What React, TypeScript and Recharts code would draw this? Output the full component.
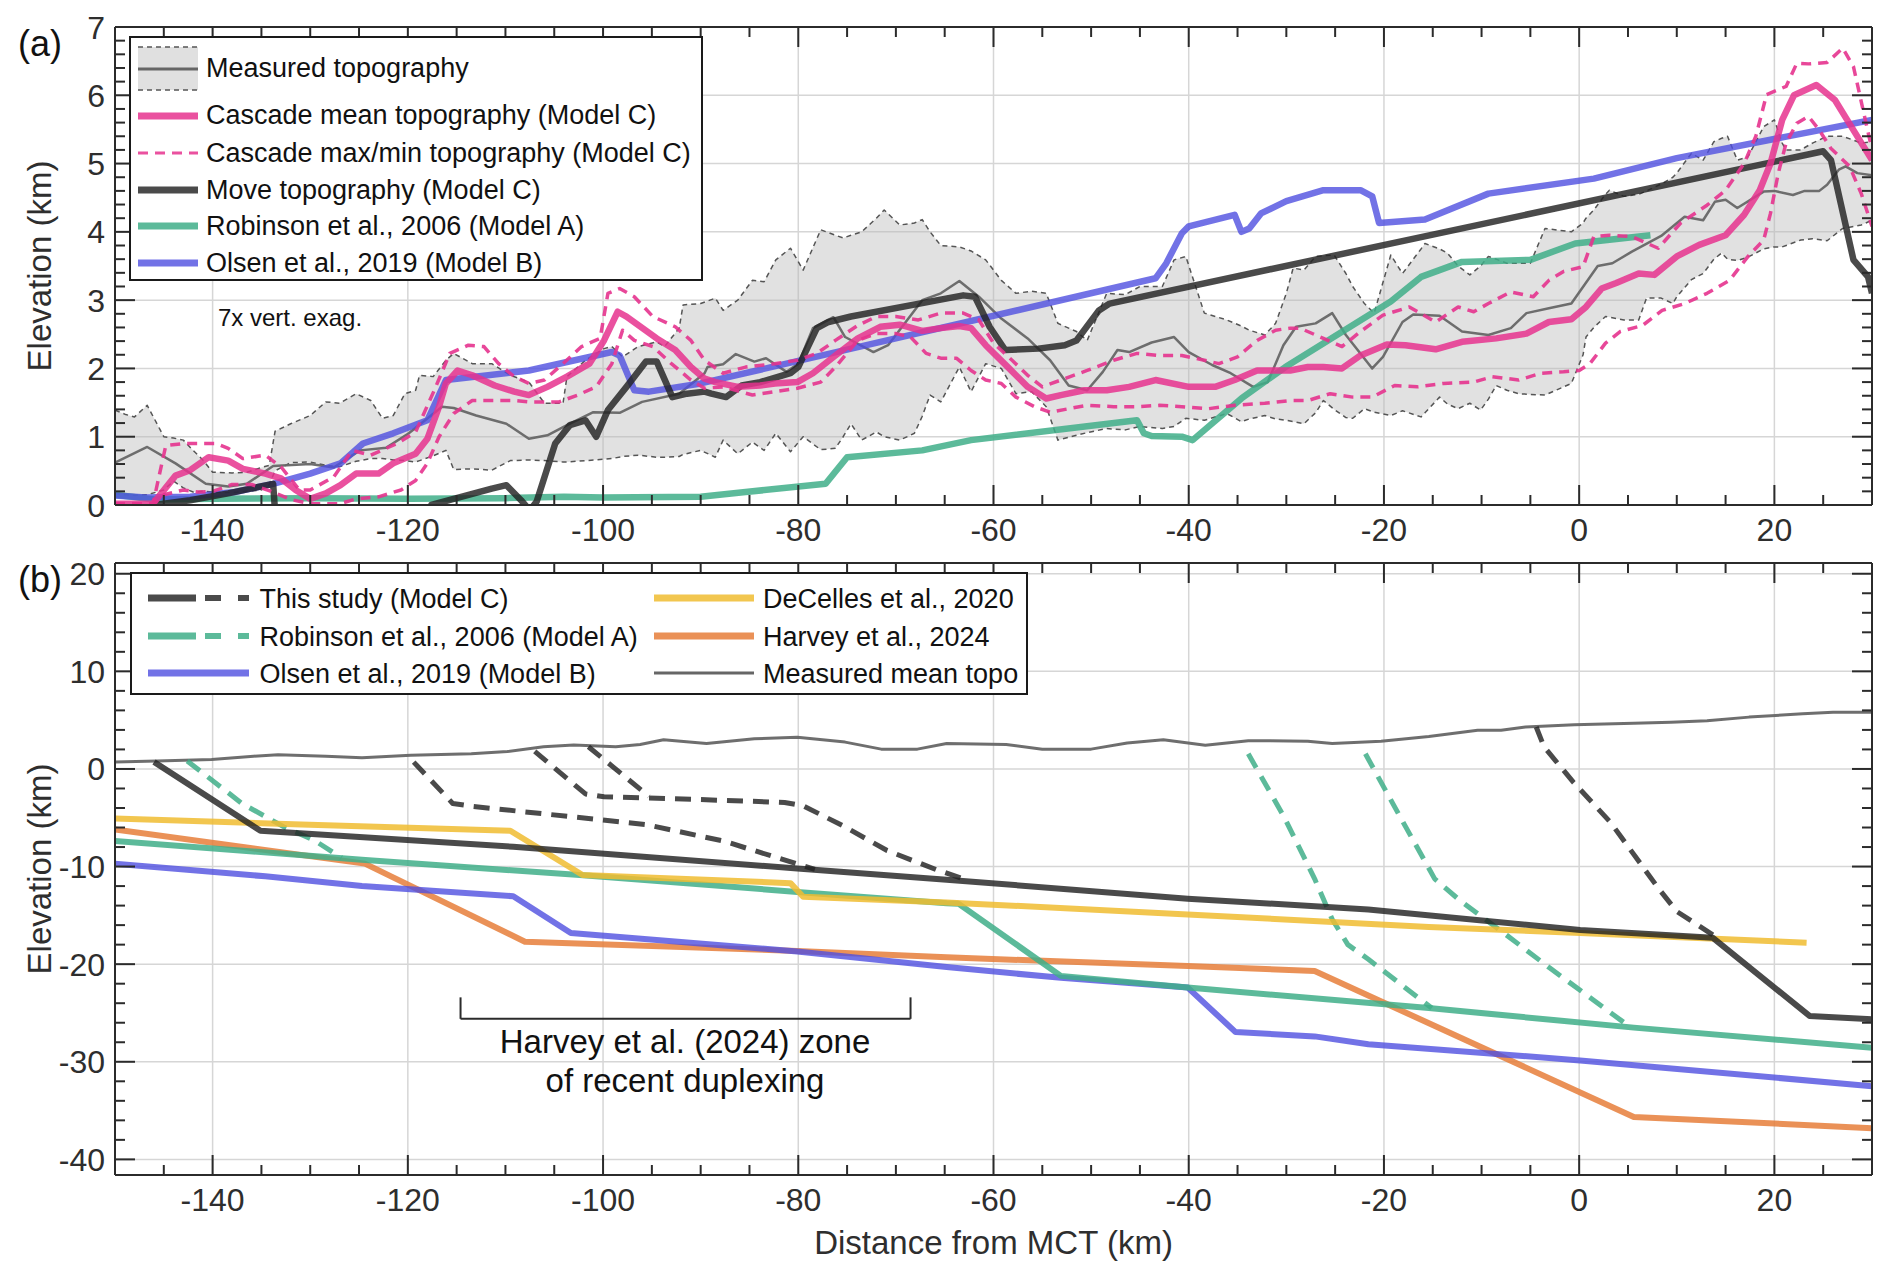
import React from 'react';
import { ComposedChart, Line, Area, XAxis, YAxis, CartesianGrid, ReferenceLine } from 'recharts';

type P = [number, number];
type T = [number, number, number];

const FONT = '"Liberation Sans", Arial, Helvetica, sans-serif';
const AXIS = '#2b2b2b';
const GRID = '#d6d6d6';
const PINK = '#E6338E';
const DARK = '#222222';
const TEAL = '#3FAE88';
const BLUE = '#4F4FE0';
const YELLOW = '#F0BC30';
const ORANGE = '#E67E3A';
const TOPO = '#666666';

// ---------- ticks ----------
const xMajorTicks = [-140, -120, -100, -80, -60, -40, -20, 0, 20];
const xAllTicks = [-145, -140, -135, -130, -125, -120, -115, -110, -105, -100, -95, -90, -85, -80, -75, -70, -65, -60, -55, -50, -45, -40, -35, -30, -25, -20, -15, -10, -5, 0, 5, 10, 15, 20, 25];
const yMajorTicksA = [0, 1, 2, 3, 4, 5, 6, 7];
const yAllTicksA = [0.2, 0.4, 0.6, 0.8, 1, 1.2, 1.4, 1.6, 1.8, 2, 2.2, 2.4, 2.6, 2.8, 3, 3.2, 3.4, 3.6, 3.8, 4, 4.2, 4.4, 4.6, 4.8, 5, 5.2, 5.4, 5.6, 5.8, 6, 6.2, 6.4, 6.6, 6.8];
const yMajorTicksB = [-40, -30, -20, -10, 0, 10, 20];
const yAllTicksB = [-40, -38, -36, -34, -32, -30, -28, -26, -24, -22, -20, -18, -16, -14, -12, -10, -8, -6, -4, -2, 0, 2, 4, 6, 8, 10, 12, 14, 16, 18, 20];

// ---------- panel (a) data ----------
// measured topography envelope: [x, max, min]
const measuredBand: T[] = [
  [-150, 1.39, 0.17], [-149, 1.33, 0.15], [-148, 1.29, 0.14], [-146.7, 1.46, 0.15], [-145, 1.0, 0.22],
  [-144, 0.98, 0.35], [-143, 0.95, 0.25], [-142, 0.8, 0.19], [-141, 0.66, 0.2], [-140, 0.48, 0.19],
  [-138, 0.47, 0.18], [-136.5, 0.48, 0.2], [-135, 0.55, 0.22], [-134.2, 0.58, 0.3], [-133.6, 1.08, 0.5],
  [-132, 1.19, 0.62], [-130, 1.31, 0.63], [-128.4, 1.51, 0.58], [-127, 1.49, 0.56], [-125.3, 1.63, 0.64],
  [-123.8, 1.53, 0.68], [-122.6, 1.27, 0.68], [-121.5, 1.31, 0.66], [-120.3, 1.63, 0.65], [-119.2, 1.68, 0.63],
  [-118.8, 1.9, 0.65], [-117.4, 1.88, 0.72], [-116.1, 2.12, 0.8], [-115.3, 2.22, 0.52], [-113.4, 2.07, 0.53],
  [-111.4, 2.07, 0.51], [-109.5, 1.9, 0.65], [-107.6, 1.8, 0.66], [-106, 1.49, 0.65], [-104.1, 1.49, 0.63],
  [-103.7, 1.88, 0.63], [-101.8, 2.12, 0.65], [-99.9, 2.29, 0.67], [-99.1, 2.32, 0.68], [-98, 2.17, 0.71],
  [-96.4, 2.32, 0.73], [-94.5, 2.39, 0.7], [-93.7, 2.32, 0.7], [-92.2, 2.59, 0.71], [-91.8, 2.93, 0.74],
  [-90, 2.95, 0.8], [-88.5, 3.03, 0.7], [-87.7, 2.85, 0.95], [-86.2, 3.0, 0.75], [-84.7, 3.29, 0.92],
  [-83.5, 3.27, 0.8], [-82.3, 3.59, 1.05], [-80.8, 3.76, 0.78], [-79.5, 3.44, 1.0], [-77.7, 4.03, 0.81],
  [-76.2, 3.95, 0.83], [-75.4, 3.91, 1.0], [-74.6, 3.95, 1.19], [-73.5, 4.0, 0.95], [-72, 4.2, 1.07],
  [-71.2, 4.32, 1.0], [-69.6, 4.1, 0.95], [-68.1, 4.13, 1.05], [-67.3, 4.18, 1.3], [-66.5, 4.0, 1.61],
  [-65.4, 3.8, 1.51], [-63.5, 3.78, 2.02], [-62.3, 3.72, 1.66], [-60.8, 3.59, 2.07], [-59.2, 3.29, 2.0],
  [-57.7, 3.1, 1.63], [-56.1, 3.13, 1.66], [-54.6, 3.1, 1.44], [-53.4, 2.66, 0.95], [-51.5, 2.54, 1.02],
  [-50.4, 2.41, 1.06], [-48.4, 3.1, 1.12], [-46.5, 3.08, 1.1], [-45, 3.2, 1.15], [-42.7, 3.2, 1.12],
  [-41.5, 3.59, 1.15], [-40.3, 3.64, 1.27], [-38.4, 2.81, 1.24], [-36.1, 2.71, 1.34], [-34.6, 2.62, 1.22],
  [-33.8, 2.56, 1.26], [-32.2, 2.49, 1.31], [-31.1, 2.66, 1.26], [-30, 3.1, 1.24], [-29.3, 3.47, 1.22],
  [-28.2, 3.44, 1.19], [-27, 3.64, 1.35], [-26.2, 3.65, 1.53], [-25.1, 3.66, 1.4], [-23.9, 3.39, 1.28],
  [-23.2, 3.2, 1.27], [-22, 2.95, 1.41], [-21, 2.81, 1.36], [-19.3, 3.66, 1.31], [-18.1, 3.39, 1.38],
  [-16.2, 3.75, 1.29], [-15.8, 3.83, 1.35], [-14.3, 3.75, 1.58], [-13.5, 3.69, 1.48], [-12.4, 3.5, 1.41],
  [-11.2, 3.37, 1.49], [-10.1, 3.5, 1.39], [-9.3, 3.64, 1.55], [-8.5, 3.6, 1.75], [-7.4, 3.54, 1.68],
  [-6.2, 3.54, 1.63], [-5, 3.54, 1.62], [-3.5, 4.05, 1.61], [-0.8, 4.0, 1.78], [0.4, 4.13, 2.2],
  [0.7, 4.2, 2.46], [1.5, 4.32, 2.6], [2.7, 4.55, 2.76], [3.1, 4.61, 2.75], [4.6, 4.52, 2.71],
  [6.1, 4.55, 2.71], [6.9, 4.6, 3.03], [8.4, 4.7, 3.03], [9.6, 4.8, 2.95], [10, 4.86, 3.05],
  [11.5, 5.15, 3.3], [12.7, 5.05, 3.39], [13.8, 5.32, 3.6], [14.6, 5.37, 3.69], [15.2, 5.4, 3.6],
  [16.2, 5.05, 3.58], [17.3, 5.1, 3.63], [18.9, 5.54, 3.75], [20, 5.64, 3.78], [20.8, 5.3, 3.78],
  [21.2, 5.2, 3.8], [22.7, 5.2, 3.88], [23.9, 5.3, 3.9], [25.4, 5.4, 3.87], [27, 5.4, 4.05],
  [28.9, 5.3, 4.1], [30, 5.32, 4.17],
];

const measuredMeanA: P[] = [
  [-150, 0.62], [-146.7, 0.85], [-143.8, 0.61], [-140.7, 0.31], [-138.4, 0.27], [-136.5, 0.31], [-133.8, 0.57],
  [-130, 0.6], [-127.6, 0.55], [-124.9, 0.8], [-122.2, 0.84], [-119.9, 1.05], [-116.5, 1.44], [-115.3, 1.42],
  [-113, 1.31], [-109.9, 1.19], [-107.6, 0.97], [-105.7, 1.02], [-103.7, 1.17], [-101, 1.36], [-98.3, 1.35],
  [-96, 1.51], [-92.2, 1.63], [-89.6, 1.93], [-89.3, 2.02], [-87.7, 2.06], [-86.4, 2.21], [-84.5, 2.1],
  [-83.3, 2.15], [-81.2, 1.95], [-80, 2.07], [-78.5, 2.59], [-76.4, 2.75], [-75.2, 2.46], [-72.3, 2.24],
  [-70.8, 2.34], [-67.3, 3.0], [-65.4, 3.1], [-63.5, 3.28], [-61.5, 3.05], [-59.2, 2.73], [-56.5, 2.44],
  [-54.2, 2.12], [-52.3, 1.75], [-50.4, 1.68], [-48.8, 1.95], [-47.3, 2.27], [-46.1, 2.24], [-43.8, 2.38],
  [-41.5, 2.46], [-40, 2.24], [-37.6, 2.05], [-35.7, 1.93], [-33.4, 1.73], [-31.9, 1.8], [-30.3, 2.34],
  [-29, 2.61], [-27, 2.66], [-25.3, 2.81], [-23.9, 2.49], [-21.2, 2.0], [-20.1, 2.17], [-18.1, 2.68],
  [-17, 2.79], [-14.3, 2.77], [-12, 2.54], [-9.3, 2.49], [-7, 2.59], [-5.4, 2.81], [-3.1, 2.88],
  [-0.8, 2.95], [1.9, 3.5], [3.4, 3.54], [5.4, 3.71], [8.4, 3.94], [10.8, 4.22], [12.7, 4.17],
  [13.9, 4.44], [15, 4.47], [16.2, 4.35], [18.9, 4.59], [20, 4.6], [21.9, 4.54], [23.1, 4.6],
  [24.6, 4.6], [25.4, 4.69], [26.6, 4.91], [27.3, 4.96], [28.5, 4.86], [30, 4.83],
];

const cascadeMean: P[] = [
  [-150, 0.02], [-146.1, 0.02], [-143.8, 0.43], [-142.3, 0.51], [-140.4, 0.7], [-138.4, 0.65], [-136.9, 0.53],
  [-134.6, 0.46], [-133, 0.39], [-131.5, 0.22], [-130, 0.09], [-128.4, 0.17], [-126.9, 0.29], [-125.3, 0.46],
  [-123, 0.46], [-121.5, 0.61], [-119.2, 0.75], [-118, 0.97], [-116.8, 1.44], [-116.1, 1.78], [-114.9, 1.97],
  [-113.4, 1.9], [-111.1, 1.75], [-109.1, 1.66], [-107.6, 1.61], [-105.7, 1.73], [-103.7, 1.88], [-101.4, 2.07],
  [-99.9, 2.41], [-98.5, 2.83], [-97.6, 2.76], [-94.5, 2.44], [-92.6, 2.27], [-91, 2.02], [-89.6, 1.85],
  [-88.5, 1.8], [-86.2, 1.73], [-83.9, 1.75], [-82.4, 1.78], [-80.1, 1.8], [-78.5, 1.93], [-76.2, 2.19],
  [-73.9, 2.44], [-71.6, 2.61], [-69.6, 2.64], [-67.3, 2.55], [-65.4, 2.59], [-63.5, 2.62], [-62.3, 2.59],
  [-60.8, 2.34], [-58.4, 2.0], [-56.5, 1.73], [-54.6, 1.56], [-53.1, 1.61], [-50.7, 1.68], [-48.4, 1.68],
  [-46.1, 1.73], [-43.4, 1.83], [-40, 1.73], [-37.3, 1.73], [-35.3, 1.83], [-33, 1.97], [-29.6, 1.97],
  [-27.8, 2.02], [-26.2, 2.02], [-24.3, 2.0], [-22.4, 2.19], [-19.7, 2.35], [-17.8, 2.34], [-14.7, 2.28],
  [-12, 2.39], [-8.5, 2.44], [-5.4, 2.51], [-3.1, 2.68], [-0.8, 2.72], [0.7, 2.9], [2.3, 3.17],
  [3.8, 3.25], [6.1, 3.39], [7.7, 3.37], [10, 3.64], [12.3, 3.81], [15, 3.95], [16.9, 4.25],
  [18.5, 4.61], [19.6, 5.0], [20.8, 5.64], [22, 6.0], [24.3, 6.15], [26.2, 5.93], [28.1, 5.49], [30, 5.05],
];

const cascadeMax: P[] = [
  [-150, 0.02], [-146.1, 0.02], [-144.8, 0.87], [-143, 0.9], [-139.6, 0.9], [-138.4, 0.83], [-136.9, 0.68],
  [-134.6, 0.73], [-133, 0.56], [-131.1, 0.22], [-130, 0.22], [-127.6, 0.41], [-125.7, 0.8], [-123.8, 0.73],
  [-121.1, 0.9], [-119.2, 1.07], [-117.2, 1.71], [-115.7, 2.22], [-113.8, 2.34], [-112.2, 2.32], [-110.7, 2.07],
  [-109.1, 1.88], [-107.6, 1.78], [-106, 1.83], [-104.1, 2.07], [-102.2, 2.32], [-100.3, 2.44], [-99.5, 3.1],
  [-98.3, 3.17], [-96.8, 3.05], [-94.9, 2.76], [-92.6, 2.61], [-91, 2.41], [-89.6, 2.12], [-87.7, 1.93],
  [-85.4, 2.02], [-82.4, 2.07], [-80.1, 2.12], [-78.1, 2.22], [-76.2, 2.41], [-73.9, 2.63], [-72, 2.76],
  [-70, 2.76], [-67.7, 2.71], [-65.4, 2.81], [-63.1, 2.81], [-61.5, 2.71], [-60, 2.37], [-58.1, 2.12],
  [-56.5, 1.9], [-55, 1.73], [-53.1, 1.83], [-50.4, 1.97], [-47.7, 2.12], [-45.3, 2.22], [-43, 2.19],
  [-40.7, 2.19], [-38.4, 2.12], [-36.9, 2.07], [-35, 2.17], [-33, 2.41], [-31.1, 2.56], [-29.6, 2.59],
  [-28.6, 2.59], [-26.2, 2.44], [-24.3, 2.32], [-22.4, 2.54], [-20.1, 2.78], [-17.4, 2.9], [-14.7, 2.68],
  [-12.4, 2.9], [-10.8, 2.83], [-9.3, 2.95], [-7, 3.12], [-4.7, 3.05], [-3.1, 3.29], [-1.6, 3.42],
  [0.4, 3.49], [1.5, 3.93], [3.1, 3.95], [5.4, 3.93], [8.1, 3.76], [10.4, 4.13], [13.1, 4.39],
  [15, 4.61], [16.9, 5.0], [18.1, 5.4], [19.2, 6.01], [21.2, 6.13], [22.3, 6.47], [23.5, 6.46],
  [25.4, 6.48], [27, 6.69], [28.1, 6.42], [30, 5.2],
];

const cascadeMin: P[] = [
  [-150, 0.01], [-146.1, 0.01], [-145, 0.15], [-143, 0.22], [-141.5, 0.19], [-140, 0.2], [-138, 0.3],
  [-136, 0.3], [-134, 0.2], [-132, 0.08], [-130, 0.02], [-128, 0.02], [-126.9, 0.02], [-125.3, 0.09],
  [-123, 0.12], [-120.7, 0.22], [-119.2, 0.36], [-118, 0.61], [-116.8, 1.0], [-115.3, 1.34], [-113.4, 1.53],
  [-111.4, 1.53], [-109.1, 1.53], [-107.6, 1.51], [-104.5, 1.51], [-102.6, 1.61], [-100.7, 1.73], [-99.1, 2.07],
  [-98, 2.56], [-96.8, 2.41], [-94.9, 2.32], [-93, 2.07], [-91, 1.83], [-89.6, 1.71], [-87.7, 1.73],
  [-84.7, 1.61], [-82.4, 1.66], [-80.1, 1.71], [-77.7, 1.8], [-76.2, 2.02], [-73.9, 2.41], [-72, 2.51],
  [-70, 2.51], [-68.5, 2.46], [-66.9, 2.22], [-65.4, 2.15], [-63.8, 2.15], [-62.3, 1.97], [-60.8, 1.83],
  [-59.2, 1.78], [-57.7, 1.58], [-55.8, 1.44], [-54.2, 1.36], [-52.3, 1.41], [-50.4, 1.46], [-47.7, 1.44],
  [-45.3, 1.44], [-43, 1.46], [-40.7, 1.44], [-38, 1.41], [-35.3, 1.46], [-32.2, 1.49], [-29.6, 1.53],
  [-27.8, 1.53], [-25.5, 1.63], [-23.2, 1.58], [-21.2, 1.58], [-18.9, 1.75], [-16.6, 1.73], [-13.9, 1.78],
  [-10.8, 1.8], [-8.9, 1.88], [-6.2, 1.83], [-3.9, 1.93], [-1.6, 1.95], [0, 1.97], [1.1, 2.07],
  [2.7, 2.37], [4.2, 2.54], [6.5, 2.63], [8.5, 2.85], [10.8, 2.95], [13.1, 3.1], [15.4, 3.29],
  [17.3, 3.64], [18.9, 3.88], [19.6, 4.27], [20.4, 4.86], [21.2, 5.3], [22.3, 5.59], [23.5, 5.69],
  [24.6, 5.49], [25.8, 5.22], [27.7, 4.96], [28.9, 4.56], [30, 4.08],
];

// Move topography: drops below sea level (out of view) between the two early thrust sheets
const moveTopo: P[] = [
  [-146, 0], [-142.3, 0.07], [-138.4, 0.17], [-133.8, 0.31], [-133.4, -0.5], [-118.4, -0.5], [-117.6, 0],
  [-115.3, 0.09], [-111.4, 0.24], [-109.9, 0.29], [-108.4, 0.07], [-107.5, -0.08], [-106.8, 0.05], [-104.9, 0.9],
  [-103.4, 1.17], [-101.8, 1.24], [-100.7, 1.0], [-99.5, 1.39], [-97.6, 1.73], [-95.6, 2.1], [-94.5, 2.1],
  [-92.9, 1.58], [-91.4, 1.63], [-89.6, 1.66], [-88.9, 1.63], [-87.4, 1.58], [-85.8, 1.75], [-83.9, 1.8],
  [-80.8, 1.93], [-80, 2.02], [-78.1, 2.59], [-76.9, 2.68], [-74.6, 2.76], [-63.1, 3.07], [-61.9, 3.05],
  [-60.4, 2.61], [-58.8, 2.27], [-55.4, 2.29], [-52.7, 2.34], [-51.5, 2.41], [-49.2, 2.85], [-48.1, 2.95],
  [25, 5.18], [25.8, 5.05], [28.1, 3.59], [29.6, 3.34], [30, 3.1],
];

const robinsonA: P[] = [
  [-150, 0.15], [-146, 0.08], [-140, 0.09], [-130, 0.1], [-120, 0.09], [-110, 0.1], [-104, 0.12], [-100, 0.11],
  [-90, 0.12], [-85.4, 0.19], [-77.2, 0.31], [-75, 0.7], [-67.3, 0.8], [-62.3, 0.95], [-45.3, 1.24],
  [-44.6, 1.05], [-43.8, 1.01], [-40.7, 1.0], [-39.6, 0.95], [-34.6, 1.56], [-30.1, 2.02], [-19.3, 2.98],
  [-16.2, 3.34], [-12, 3.56], [-5, 3.59], [-0.4, 3.83], [7.3, 3.95],
];

const olsenA: P[] = [
  [-150, 0.14], [-146.9, 0.11], [-142.3, 0.12], [-137.7, 0.19], [-133.8, 0.31], [-130, 0.46], [-126.9, 0.61],
  [-124.6, 0.9], [-121.5, 1.05], [-118, 1.24], [-116.1, 1.83], [-107.6, 1.97], [-99.1, 2.24], [-98.3, 2.19],
  [-96.8, 1.68], [-95.3, 1.66], [-90, 1.78], [-43.4, 3.32], [-42.3, 3.54], [-40.7, 3.98], [-40, 4.08],
  [-35.3, 4.25], [-34.6, 4.0], [-33.8, 4.05], [-32.6, 4.27], [-30, 4.45], [-26.2, 4.61], [-22.4, 4.61],
  [-21.2, 4.52], [-20.5, 4.13], [-15.8, 4.18], [-9.3, 4.56], [1.5, 4.78], [10, 5.08], [30, 5.64],
];

// ---------- panel (b) data ----------
const measuredMeanB: P[] = [
  [-150, 0.72], [-145.7, 0.82], [-140.1, 0.97], [-135.8, 1.3], [-133.3, 1.45], [-128.4, 1.3], [-124.7, 1.16],
  [-119.7, 1.4], [-113.5, 1.55], [-109.8, 1.79], [-106.1, 2.27], [-103, 2.46], [-98.7, 2.27], [-96.2, 2.51],
  [-93.8, 3.0], [-89.4, 2.6], [-84.5, 3.09], [-80.1, 3.24], [-75.2, 2.75], [-71.5, 2.03], [-67.8, 2.03],
  [-64.8, 2.6], [-58.7, 2.5], [-55, 2.03], [-50, 2.03], [-46.3, 2.66], [-42.6, 3.0], [-38.3, 2.42],
  [-33.9, 2.9], [-27.8, 2.85], [-25.3, 2.61], [-20.3, 2.85], [-15.4, 3.33], [-10.4, 3.96], [-8, 3.96],
  [-5.5, 4.3], [-0.5, 4.54], [5.6, 4.69], [9.4, 4.78], [13.1, 4.93], [17.4, 5.31], [22.9, 5.65],
  [26, 5.8], [30, 5.8],
];

const thisStudyDecollement: P[] = [
  [-146, 0.72], [-135.1, -6.33], [-109.2, -7.97], [-80.1, -10.2], [-64.8, -11.35], [-40.1, -13.29],
  [-21.6, -14.4], [0.1, -16.5], [13.7, -17.3], [23.6, -25.3], [30, -25.65],
];
const thisStudyRamp1: P[] = [[-119.4, 0.7], [-115.4, -3.53], [-113.5, -3.82], [-95.6, -5.7], [-87.6, -7.4], [-78.3, -10.3]];
const thisStudyRamp2: P[] = [
  [-107, 1.8], [-101.8, -2.56], [-99.9, -2.85], [-90, -3.14], [-81.4, -3.43], [-79.5, -3.77],
  [-75.2, -5.94], [-70.9, -8.36], [-65.9, -10.3], [-63, -11.3],
];
const thisStudyRamp3: P[] = [[-101.5, 2.27], [-95.3, -2.8]];
const thisStudyRamp4: P[] = [[-4.4, 4.3], [-3.6, 2.27], [-0.6, -1.35], [3.2, -5.46], [8.1, -12.2], [10, -14.6], [13.7, -17.0]];

const robinsonDecollement: P[] = [
  [-150, -7.39], [-124.7, -9.3], [-102.4, -10.87], [-80.1, -12.6], [-64.8, -13.77], [-63.6, -13.8],
  [-53.1, -21.2], [-40.1, -22.4], [-15.4, -24.5], [5.6, -26.5], [30, -28.56],
];
const robinsonRamp1: P[] = [[-142.6, 0.82], [-137, -3.53], [-132.7, -5.94], [-129.6, -7.3], [-126.8, -9.1]];
const robinsonRamp2: P[] = [[-33.9, 1.55], [-30.2, -4.97], [-27.1, -11.26], [-25.3, -15.4], [-23.7, -18.0], [-21.6, -19.5], [-15.1, -24.5]];
const robinsonRamp3: P[] = [[-21.9, 1.55], [-17.9, -5.7], [-14.8, -11.26], [-12.3, -13.4], [-7.4, -17.05], [-3, -20.4], [5.3, -26.5]];

const olsenB: P[] = [
  [-150, -9.7], [-134.6, -11.0], [-124.7, -12.0], [-109.2, -13.04], [-103.3, -16.8], [-80.1, -18.7],
  [-64.8, -20.3], [-53.1, -21.4], [-40.1, -22.4], [-35.2, -26.96], [-27.1, -27.4], [-21.6, -28.2],
  [0.1, -29.86], [30, -32.5],
];
const decelles: P[] = [
  [-150, -5.07], [-130.9, -5.7], [-109.5, -6.33], [-102.1, -10.87], [-80.8, -11.7], [-79.5, -13.1],
  [-64.8, -13.67], [-40.1, -14.9], [-15.4, -16.2], [0.1, -16.8], [23.3, -17.8],
];
const harvey: P[] = [
  [-150, -6.2], [-124.4, -9.7], [-108, -17.7], [-80.1, -18.65], [-64.8, -19.3], [-40.1, -20.2],
  [-27.1, -20.7], [5.6, -35.65], [30, -36.8],
];

// Harvey et al. (2024) duplexing zone bracket
const bracketX = [-114.6, -68.5];
const bracketY = [-25.6, -23.4];

// ---------- helpers ----------
const toXY = (a: P[]) => a.map(([x, y]) => ({ x, y }));
const bandData = measuredBand.map(([x, hi, lo]) => ({ x, hi, lo, range: [lo, hi] }));

// ---------- layout ----------
const W = 1892;
const LEFT = 115;
const RIGHT_M = 19;
const PLOT_W = W - LEFT - RIGHT_M - 1;
const A_H = 560;
const A_TOPM = 26;
const A_XH = 55;
const A_PLOT_H = A_H - A_TOPM - 1 - A_XH;
const B_TOP = 540;
const B_H = 739;
const B_TOPM = 22;
const B_XH = 104;
const B_PLOT_H = B_H - B_TOPM - 1 - B_XH;

const tickText = { fontFamily: FONT, fontSize: 32, fill: '#2e2e2e' };

const BottomLabel = (props: any) => {
  const { x, y, payload } = props;
  return (
    <text x={x} y={y + 36} textAnchor="middle" {...tickText}>
      {String(payload.value)}
    </text>
  );
};
const LeftLabel = (props: any) => {
  const { x, y, payload } = props;
  return (
    <text x={x - 10} y={y + 11.5} textAnchor="end" {...tickText}>
      {String(payload.value)}
    </text>
  );
};
const makeXFrameTicks = (plotH: number) => (props: any) => {
  const { x, y, payload } = props;
  const len = payload.value % 20 === 0 ? 20 : 10;
  return (
    <g>
      <line x1={x} x2={x} y1={y} y2={y + len} stroke={AXIS} strokeWidth={2} />
      <line x1={x} x2={x} y1={y + plotH} y2={y + plotH - len} stroke={AXIS} strokeWidth={2} />
    </g>
  );
};
const makeYFrameTicks = (plotW: number, majorStep: number) => (props: any) => {
  const { x, y, payload } = props;
  const v = payload.value;
  const len = Math.abs(v / majorStep - Math.round(v / majorStep)) < 1e-6 ? 20 : 10;
  return (
    <g>
      <line x1={x} x2={x - len} y1={y} y2={y} stroke={AXIS} strokeWidth={2} />
      <line x1={x - plotW} x2={x - plotW + len} y1={y} y2={y} stroke={AXIS} strokeWidth={2} />
    </g>
  );
};

const axisLine = { stroke: AXIS, strokeWidth: 2 };

const XDOM: [number, number] = [-150, 30];

function Frame(yDomain: [number, number], yMajor: number[], yAll: number[], plotH: number, majorStep: number, xh: number) {
  return [
    <XAxis key="xb" xAxisId={0} dataKey="x" type="number" domain={XDOM} allowDataOverflow ticks={xMajorTicks} interval={0}
      tickSize={0} tickMargin={0} tickLine={false} axisLine={axisLine} tick={BottomLabel} height={xh} />,
    <XAxis key="xt" xAxisId="top" orientation="top" dataKey="x" type="number" domain={XDOM} allowDataOverflow ticks={xAllTicks} interval={0}
      tickSize={0} tickMargin={0} tickLine={false} axisLine={axisLine} tick={makeXFrameTicks(plotH)} height={1} />,
    <YAxis key="yl" yAxisId={0} type="number" domain={yDomain} allowDataOverflow ticks={yMajor} interval={0}
      tickSize={0} tickMargin={0} tickLine={false} axisLine={axisLine} tick={LeftLabel} width={LEFT} />,
    <YAxis key="yr" yAxisId="right" orientation="right" type="number" domain={yDomain} allowDataOverflow ticks={yAll} interval={0}
      tickSize={0} tickMargin={0} tickLine={false} axisLine={axisLine} tick={makeYFrameTicks(PLOT_W, majorStep)} width={1} />,
  ];
}

const lineProps = { type: 'linear' as const, dataKey: 'y', dot: false, activeDot: false, isAnimationActive: false, strokeLinejoin: 'round' as const };

const ChartA = () => (
  <ComposedChart width={W} height={A_H} margin={{ top: A_TOPM, right: RIGHT_M, bottom: 0, left: 0 }}>
    <CartesianGrid stroke={GRID} strokeWidth={1.5} />
    {Frame([0, 7], yMajorTicksA, yAllTicksA, A_PLOT_H, 1, A_XH)}
    <Area data={bandData} dataKey="range" type="linear" stroke="none" fill="#b8b8b8" fillOpacity={0.42} isAnimationActive={false} dot={false} activeDot={false} />
    <Line {...lineProps} data={bandData} dataKey="hi" stroke="#555" strokeWidth={1.5} strokeDasharray="5 4" />
    <Line {...lineProps} data={bandData} dataKey="lo" stroke="#555" strokeWidth={1.5} strokeDasharray="5 4" />
    <Line {...lineProps} data={toXY(measuredMeanA)} stroke={TOPO} strokeWidth={2.5} strokeOpacity={0.95} />
    <Line {...lineProps} data={toXY(robinsonA)} stroke={TEAL} strokeWidth={6.5} strokeOpacity={0.85} />
    <Line {...lineProps} data={toXY(olsenA)} stroke={BLUE} strokeWidth={6.5} strokeOpacity={0.8} />
    <Line {...lineProps} data={toXY(moveTopo)} stroke={DARK} strokeWidth={6.5} strokeOpacity={0.82} />
    <Line {...lineProps} data={toXY(cascadeMax)} stroke={PINK} strokeWidth={3.5} strokeOpacity={0.9} strokeDasharray="10 7" />
    <Line {...lineProps} data={toXY(cascadeMin)} stroke={PINK} strokeWidth={3.5} strokeOpacity={0.9} strokeDasharray="10 7" />
    <Line {...lineProps} data={toXY(cascadeMean)} stroke={PINK} strokeWidth={6.5} strokeOpacity={0.85} />
  </ComposedChart>
);

const dashB = '16 10';
const ChartB = () => (
  <ComposedChart width={W} height={B_H} margin={{ top: B_TOPM, right: RIGHT_M, bottom: 0, left: 0 }}>
    <CartesianGrid stroke={GRID} strokeWidth={1.5} />
    {Frame([-41.6, 21.1], yMajorTicksB, yAllTicksB, B_PLOT_H, 10, B_XH)}
    <ReferenceLine segment={[{ x: bracketX[0], y: bracketY[0] }, { x: bracketX[1], y: bracketY[0] }]} stroke={AXIS} strokeWidth={2} />
    <ReferenceLine segment={[{ x: bracketX[0], y: bracketY[0] }, { x: bracketX[0], y: bracketY[1] }]} stroke={AXIS} strokeWidth={2} />
    <ReferenceLine segment={[{ x: bracketX[1], y: bracketY[0] }, { x: bracketX[1], y: bracketY[1] }]} stroke={AXIS} strokeWidth={2} />
    <Line {...lineProps} data={toXY(measuredMeanB)} stroke={TOPO} strokeWidth={3} strokeOpacity={0.95} />
    <Line {...lineProps} data={toXY(harvey)} stroke={ORANGE} strokeWidth={6} strokeOpacity={0.85} />
    <Line {...lineProps} data={toXY(olsenB)} stroke={BLUE} strokeWidth={6} strokeOpacity={0.8} />
    <Line {...lineProps} data={toXY(robinsonDecollement)} stroke={TEAL} strokeWidth={6} strokeOpacity={0.85} />
    <Line {...lineProps} data={toXY(robinsonRamp1)} stroke={TEAL} strokeWidth={5} strokeOpacity={0.85} strokeDasharray={dashB} />
    <Line {...lineProps} data={toXY(robinsonRamp2)} stroke={TEAL} strokeWidth={5} strokeOpacity={0.85} strokeDasharray={dashB} />
    <Line {...lineProps} data={toXY(robinsonRamp3)} stroke={TEAL} strokeWidth={5} strokeOpacity={0.85} strokeDasharray={dashB} />
    <Line {...lineProps} data={toXY(decelles)} stroke={YELLOW} strokeWidth={6} strokeOpacity={0.85} />
    <Line {...lineProps} data={toXY(thisStudyDecollement)} stroke={DARK} strokeWidth={6} strokeOpacity={0.82} />
    <Line {...lineProps} data={toXY(thisStudyRamp1)} stroke={DARK} strokeWidth={5} strokeOpacity={0.82} strokeDasharray={dashB} />
    <Line {...lineProps} data={toXY(thisStudyRamp2)} stroke={DARK} strokeWidth={5} strokeOpacity={0.82} strokeDasharray={dashB} />
    <Line {...lineProps} data={toXY(thisStudyRamp3)} stroke={DARK} strokeWidth={5} strokeOpacity={0.82} strokeDasharray={dashB} />
    <Line {...lineProps} data={toXY(thisStudyRamp4)} stroke={DARK} strokeWidth={5} strokeOpacity={0.82} strokeDasharray={dashB} />
  </ComposedChart>
);

const txt = { fontFamily: FONT, fill: '#111' };

const Overlay = () => (
  <svg width={W} height={1279} style={{ position: 'absolute', left: 0, top: 0, pointerEvents: 'none' }}>
    {/* panel labels */}
    <text x={18} y={56} fontSize={36} {...txt}>(a)</text>
    <text x={18} y={592} fontSize={36} {...txt}>(b)</text>
    {/* axis titles */}
    <text transform="translate(51,266) rotate(-90)" textAnchor="middle" fontSize={33} {...txt} fill="#2e2e2e">Elevation (km)</text>
    <text transform="translate(51,869) rotate(-90)" textAnchor="middle" fontSize={33} {...txt} fill="#2e2e2e">Elevation (km)</text>
    <text x={993.5} y={1254} textAnchor="middle" fontSize={33} {...txt} fill="#2e2e2e">Distance from MCT (km)</text>
    {/* annotations */}
    <text x={218} y={326} fontSize={24} {...txt}>7x vert. exag.</text>
    <text x={685} y={1053} textAnchor="middle" fontSize={33} {...txt}>Harvey et al. (2024) zone</text>
    <text x={685} y={1092} textAnchor="middle" fontSize={33} {...txt}>of recent duplexing</text>

    {/* legend (a) */}
    <rect x={130} y={37} width={572} height={243} fill="#fff" stroke="#1a1a1a" strokeWidth={2} />
    <rect x={138} y={47} width={60} height={43} fill="#e0e0e0" />
    <line x1={138} x2={198} y1={47} y2={47} stroke="#555" strokeWidth={1.5} strokeDasharray="5 4" />
    <line x1={138} x2={198} y1={90} y2={90} stroke="#555" strokeWidth={1.5} strokeDasharray="5 4" />
    <line x1={138} x2={198} y1={69} y2={69} stroke={TOPO} strokeWidth={3} />
    <line x1={138} x2={198} y1={116} y2={116} stroke={PINK} strokeOpacity={0.85} strokeWidth={7} />
    <line x1={138} x2={198} y1={153} y2={153} stroke={PINK} strokeOpacity={0.85} strokeWidth={3} strokeDasharray="10 7" />
    <line x1={138} x2={198} y1={190} y2={190} stroke={DARK} strokeOpacity={0.82} strokeWidth={7} />
    <line x1={138} x2={198} y1={226} y2={226} stroke={TEAL} strokeOpacity={0.85} strokeWidth={7} />
    <line x1={138} x2={198} y1={263} y2={263} stroke={BLUE} strokeOpacity={0.8} strokeWidth={7} />
    <text x={206} y={77} fontSize={27} {...txt}>Measured topography</text>
    <text x={206} y={124} fontSize={27} {...txt}>Cascade mean topography (Model C)</text>
    <text x={206} y={162} fontSize={27} {...txt}>Cascade max/min topography (Model C)</text>
    <text x={206} y={199} fontSize={27} {...txt}>Move topography (Model C)</text>
    <text x={206} y={235} fontSize={27} {...txt}>Robinson et al., 2006 (Model A)</text>
    <text x={206} y={272} fontSize={27} {...txt}>Olsen et al., 2019 (Model B)</text>

    {/* legend (b) */}
    <rect x={131} y={573} width={896} height={121} fill="#fff" stroke="#1a1a1a" strokeWidth={2} />
    <line x1={148} x2={196} y1={598} y2={598} stroke={DARK} strokeOpacity={0.82} strokeWidth={7} />
    <line x1={205} x2={249} y1={598} y2={598} stroke={DARK} strokeOpacity={0.82} strokeWidth={6} strokeDasharray="16 17" />
    <line x1={148} x2={196} y1={636} y2={636} stroke={TEAL} strokeOpacity={0.85} strokeWidth={7} />
    <line x1={205} x2={249} y1={636} y2={636} stroke={TEAL} strokeOpacity={0.85} strokeWidth={6} strokeDasharray="16 17" />
    <line x1={148} x2={249} y1={673} y2={673} stroke={BLUE} strokeOpacity={0.8} strokeWidth={7} />
    <line x1={654} x2={754} y1={598} y2={598} stroke={YELLOW} strokeOpacity={0.85} strokeWidth={7} />
    <line x1={654} x2={754} y1={636} y2={636} stroke={ORANGE} strokeOpacity={0.85} strokeWidth={7} />
    <line x1={654} x2={754} y1={673} y2={673} stroke={TOPO} strokeWidth={3} />
    <text x={259.5} y={608} fontSize={27} {...txt}>This study (Model C)</text>
    <text x={259.5} y={646} fontSize={27} {...txt}>Robinson et al., 2006 (Model A)</text>
    <text x={259.5} y={683} fontSize={27} {...txt}>Olsen et al., 2019 (Model B)</text>
    <text x={763} y={608} fontSize={27} {...txt}>DeCelles et al., 2020</text>
    <text x={763} y={646} fontSize={27} {...txt}>Harvey et al., 2024</text>
    <text x={763} y={683} fontSize={27} {...txt}>Measured mean topo</text>
  </svg>
);

export default function App() {
  return (
    <div style={{ position: 'absolute', left: 0, top: 0, width: W, height: 1279, background: '#fff', overflow: 'hidden', fontFamily: FONT }}>
      <div style={{ position: 'absolute', left: 0, top: 0 }}>
        <ChartA />
      </div>
      <div style={{ position: 'absolute', left: 0, top: B_TOP }}>
        <ChartB />
      </div>
      <Overlay />
    </div>
  );
}
